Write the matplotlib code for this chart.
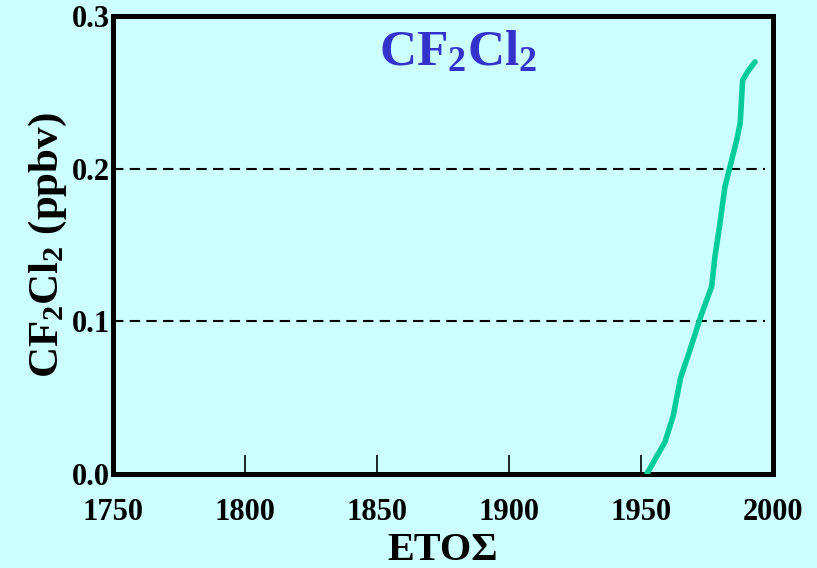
import matplotlib as mpl
import matplotlib.pyplot as plt

# CF2Cl2 concentration
YEARS = [1952.2, 1959.1, 1962.2, 1965.0, 1968.5, 1973.0, 1976.8, 1978.0, 1979.9,
         1981.8, 1983.1, 1985.0, 1986.3, 1987.6, 1988.5, 1990.6, 1993.2]
PPBV = [0.000, 0.021, 0.038, 0.063, 0.081, 0.105, 0.123, 0.142, 0.164,
        0.188, 0.197, 0.210, 0.219, 0.230, 0.258, 0.264, 0.270]
X_TICKS = [1750, 1800, 1850, 1900, 1950, 2000]
Y_TICKS = [0.0, 0.1, 0.2, 0.3]
Y_TICK_LABELS = ["0.0", "0.1", "0.2", "0.3"]
GRID_LEVELS = [0.1, 0.2]

BG = "#CCFFFF"
GREEN = "#00CC99"
BLUE = "#3333CC"

mpl.rcParams.update({
    "font.family": ["Liberation Serif", "DejaVu Serif"],
    "font.weight": "bold",
    "mathtext.fontset": "custom",
    "mathtext.rm": "Liberation Serif:bold",
    "mathtext.bf": "Liberation Serif:bold",
    "mathtext.it": "Liberation Serif:bold",
})

fig = plt.figure(figsize=(8.17, 5.68), dpi=100, facecolor=BG)
ax = fig.add_axes([0.1383, 0.1655, 0.8078, 0.8063], facecolor=BG)

for level in GRID_LEVELS:
    ax.axhline(level, xmin=0, xmax=0.988, color="black", linewidth=1.5,
               dashes=(5, 3), zorder=1)

ax.plot(YEARS, PPBV, color=GREEN, linewidth=4.0, solid_capstyle="round",
        solid_joinstyle="round", zorder=3)

ax.set_xlim(1750, 2000)
ax.set_ylim(0, 0.3)
ax.set_xticks(X_TICKS)
ax.set_xticklabels([str(x) for x in X_TICKS], fontsize=22, fontweight="bold")
ax.set_yticks(Y_TICKS)
ax.set_yticklabels(Y_TICK_LABELS, fontsize=22, fontweight="bold")
ax.tick_params(axis="x", direction="in", length=14, width=1.2, pad=17, colors="black")
ax.tick_params(axis="y", length=0, pad=2)

for spine in ax.spines.values():
    spine.set_linewidth(3.6)
    spine.set_color("black")

ax.set_xlabel("ΕΤΟΣ", fontsize=29, fontweight="bold", labelpad=4)
ax.set_ylabel(r"$\mathbf{CF_2Cl_2}$ (ppbv)", fontsize=31, fontweight="bold", labelpad=2)

ax.text(0.523, 0.893, r"$\mathbf{CF_2Cl_2}$", transform=ax.transAxes,
        ha="center", va="baseline", fontsize=37, color=BLUE)

fig.savefig("out.png", dpi=100, facecolor=BG)
